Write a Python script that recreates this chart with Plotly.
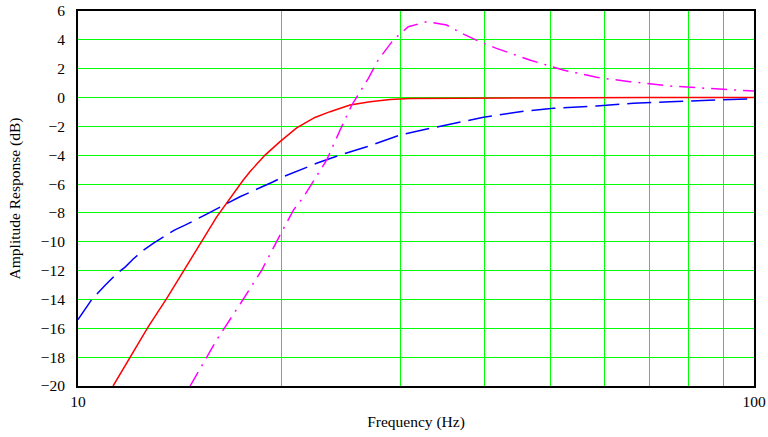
import plotly.graph_objects as go

# Red solid curve (Hz, dB)
red_f = [11.27, 11.94, 12.70, 13.53, 14.40, 15.24, 16.04, 17.56, 17.96, 18.91, 19.9, 21.06,
         22.41, 23.6, 25.26, 27.04, 28.94, 30.97, 36.2, 36.3, 50, 70, 100]
red_db = [-20, -18.0, -15.9, -13.93, -11.85, -10.0, -8.27, -5.72, -5.14, -3.99, -3.06, -2.1,
          -1.38, -0.98, -0.52, -0.29, -0.13, -0.06, -0.05, 0, 0, 0, 0]

# Blue dashed curve
blue_f = [10.0, 10.48, 10.96, 11.40, 11.74, 12.07, 12.49, 12.92, 13.91, 14.40, 15.4, 17.36,
          19.45, 20.13, 22.54, 24.42, 26.74, 28.8, 29.95, 33.17, 35.3, 39.8, 45.06, 50.5,
          58.5, 66.3, 75.1, 86.1, 97.5, 100]
blue_db = [-15.4, -14.0, -13.03, -12.23, -11.76, -11.19, -10.6, -10.11, -9.17, -8.85, -8.15, -6.88,
           -5.84, -5.49, -4.56, -3.99, -3.41, -2.9, -2.6, -2.14, -1.87, -1.37, -0.98, -0.75,
           -0.59, -0.4, -0.29, -0.17, -0.1, -0.08]

# Magenta dash-dot curve
mag_f = [14.65, 16.04, 17.46, 18.7, 19.9, 20.83, 21.57, 23.33, 24.42, 25.41, 26.89, 27.8,
         29.27, 30.8, 32.8, 35.1, 36.95, 39.3, 41.6, 46.6, 52.2, 58.5, 65.5, 75.1, 85.1,
         97.5, 100]
mag_db = [-20, -16.8, -14.16, -11.96, -9.54, -7.8, -6.88, -4.33, -2.25, -0.52, 1.33, 2.6,
          3.99, 4.91, 5.26, 5.03, 4.45, 3.87, 3.41, 2.6, 1.91, 1.4, 1.1, 0.8, 0.64,
          0.47, 0.45]

x_tickvals = [10, 20, 30, 40, 50, 60, 70, 80, 90, 100]
x_ticktext = ["10", "", "", "", "", "", "", "", "", "100"]
y_tickvals = list(range(-20, 7, 2))

GRID = "#00FF00"
FONT = "Liberation Serif"

fig = go.Figure()
fig.add_trace(go.Scatter(x=red_f, y=red_db, mode="lines",
                         line=dict(color="#FF0000", width=1.5), showlegend=False))
fig.add_trace(go.Scatter(x=blue_f, y=blue_db, mode="lines",
                         line=dict(color="#0000FF", width=1.5, dash="24px,8px"), showlegend=False))
fig.add_trace(go.Scatter(x=mag_f, y=mag_db, mode="lines",
                         line=dict(color="#FF00FF", width=1.5, dash="16px,7px,2px,7px"), showlegend=False))

fig.update_layout(
    width=768, height=437,
    margin=dict(l=78, r=14, t=11, b=51),
    paper_bgcolor="white", plot_bgcolor="white",
    font=dict(family=FONT, size=15, color="black"),
    xaxis=dict(type="log", range=[1, 2], tickvals=x_tickvals, ticktext=x_ticktext,
               showgrid=True, gridcolor=GRID, gridwidth=1, zeroline=False,
               showline=True, linecolor="black", linewidth=2, mirror=True, ticks="",
               automargin=False,
               title=dict(text="Frequency (Hz)", standoff=8, font=dict(family=FONT, size=15.5)),
               tickfont=dict(family=FONT, size=15.5)),
    yaxis=dict(range=[-20, 6], tickvals=y_tickvals,
               showgrid=True, gridcolor=GRID, gridwidth=1, zeroline=False,
               showline=True, linecolor="black", linewidth=2, mirror=True, ticks="",
               ticklabelstandoff=8, automargin=False,
               title=dict(text="Amplitude Response (dB)", standoff=16, font=dict(family=FONT, size=15.5)),
               tickfont=dict(family=FONT, size=15.5)),
)

fig.write_html("out.html")
